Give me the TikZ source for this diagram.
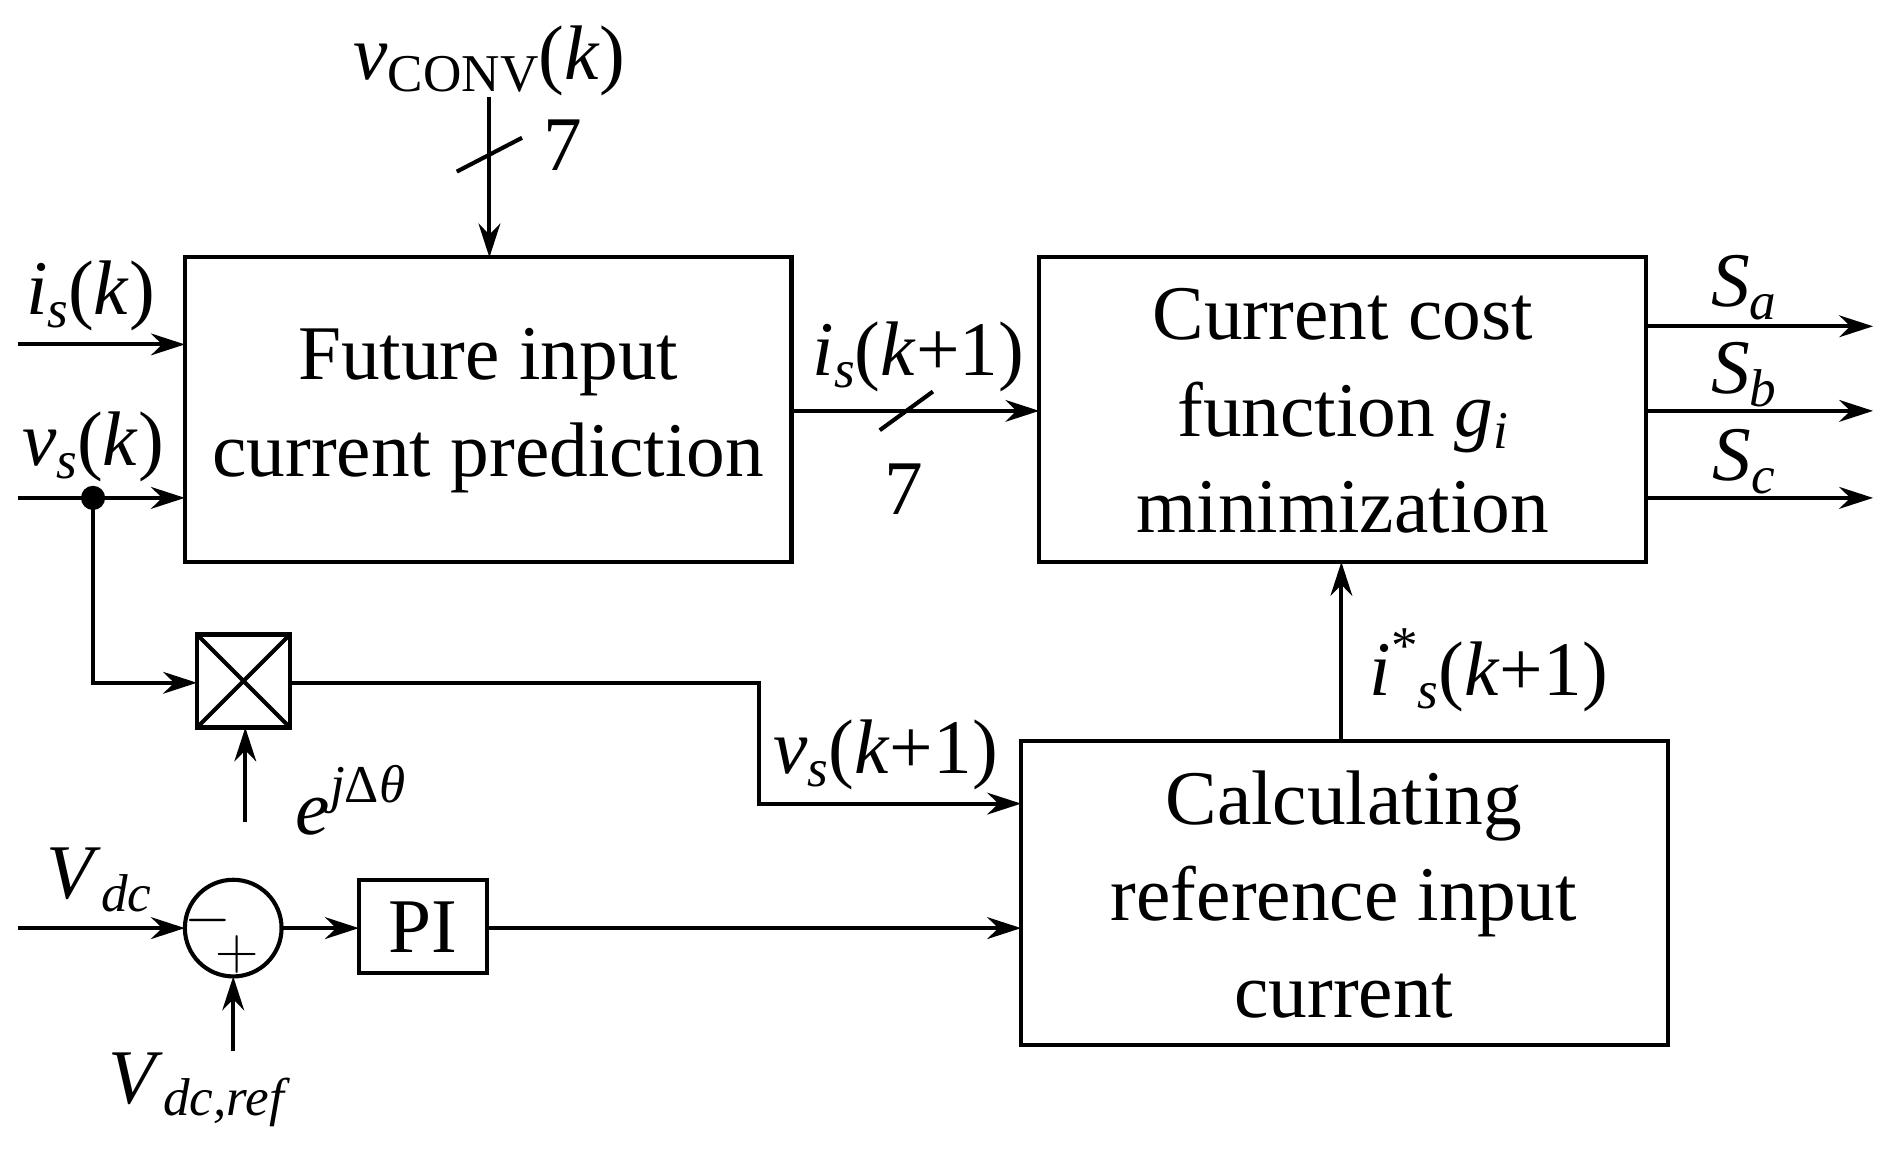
\documentclass[tikz,border=0pt]{standalone}
\usepackage{fontspec}
\setmainfont{Liberation Serif}
\usetikzlibrary{arrows.meta}
\newcommand{\ii}[1]{\textit{#1}}
\newcommand{\sbs}[1]{\raisebox{-0.35ex}{\fontsize{22}{24}\selectfont #1}}
\newcommand{\sps}[1]{\raisebox{0.9ex}{\fontsize{22}{24}\selectfont #1}}
\begin{document}
\begin{tikzpicture}[x=0.5pt,y=-0.5pt,line width=1.7pt,
  ar/.style={-{Stealth[length=14pt,width=9pt]}},
  txt/.style={font=\fontsize{32}{40}\selectfont,inner sep=0},
  lbl/.style={font=\fontsize{32}{36}\selectfont,inner sep=0}]
\useasboundingbox (0,0) rectangle (1564,950);
% boxes
\draw (153,213) rectangle (655,465);
\node[txt,align=center] (b1) at (404,340) {Future input\\current prediction};
\draw (860,213) rectangle (1362,465);
\node[txt,align=center] (b2) at (1111,340) {Current cost\\function \ii{g}\sbs{\ii{i}}\\minimization};
\draw (845,613) rectangle (1380,865);
\node[txt,align=center] (b3) at (1112,740) {Calculating\\reference input\\current};
\draw (163,525) rectangle (240,602);
\draw (163,525) -- (240,602) (240,525) -- (163,602);
\draw (193,768) circle (40);
\node[inner sep=0,font=\fontsize{24}{26}\selectfont] at (172,762) {$-$};
\node[inner sep=0,font=\fontsize{24}{26}\selectfont] at (196,790) {$+$};
\draw (297,728) rectangle (403,805);
\node[txt] (pi) at (350,767) {PI};
% inputs
\draw[ar] (15,285) -- (153,285);
\node[lbl] (is) at (75,245) {\ii{i}\sbs{\ii{s}}(\ii{k})};
\draw[ar] (15,412) -- (153,412);
\node[lbl] (vs) at (77,370) {\ii{v}\sbs{\ii{s}}(\ii{k})};
\fill (77,412) circle (10);
\draw[ar] (77,412) -- (77,565) -- (163,565);
\draw[ar] (240,565) -- (628,565) -- (628,665) -- (845,665);
\node[lbl] at (733,625) {\ii{v}\sbs{\ii{s}}(\ii{k}+1)};
\draw[ar] (203,680) -- (203,602);
\node[lbl] at (290,662) {\ii{e}\sps{\ii{j}Δ\ii{θ}}};
\draw[ar] (15,768) -- (153,768);
\node[lbl] at (82,728) {\ii{V}\sbs{\ii{dc}}};
\draw[ar] (193,870) -- (193,808);
\node[lbl] at (165,902) {\ii{V}\sbs{\ii{dc,ref}}};
\draw[ar] (233,768) -- (297,768);
\draw[ar] (403,768) -- (845,768);
% between boxes
\draw[ar] (655,340) -- (860,340);
\draw (728,356) -- (772,324);
\node[lbl] at (760,295) {\ii{i}\sbs{\ii{s}}(\ii{k}+1)};
\node[lbl] at (748,405) {7};
\draw[ar] (405,80) -- (405,213);
\draw (378,142) -- (432,114);
\node[lbl] at (405,50) {\ii{v}\sbs{CONV}(\ii{k})};
\node[lbl] at (466,120) {7};
\draw[ar] (1110,613) -- (1110,465);
\node[lbl] at (1232,555) {\ii{i}\sps{*}\sbs{\ii{s}}(\ii{k}+1)};
% outputs
\draw[ar] (1362,270) -- (1550,270);
\draw[ar] (1362,340) -- (1550,340);
\draw[ar] (1362,412) -- (1550,412);
\node[lbl] at (1443,238) {\ii{S}\sbs{\ii{a}}};
\node[lbl] at (1443,310) {\ii{S}\sbs{\ii{b}}};
\node[lbl] at (1443,382) {\ii{S}\sbs{\ii{c}}};
\end{tikzpicture}
\end{document}
